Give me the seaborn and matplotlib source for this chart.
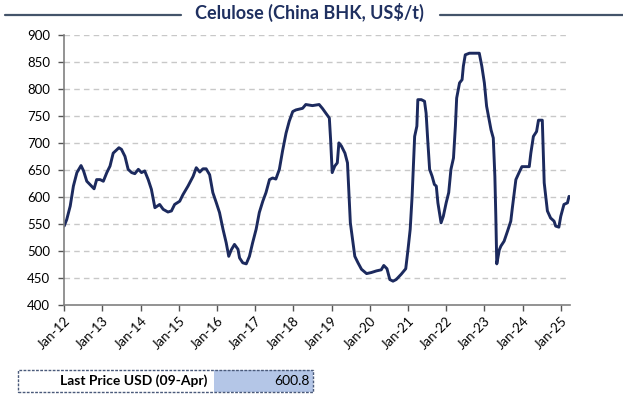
import pandas as pd
import matplotlib
matplotlib.use("Agg")
import matplotlib.pyplot as plt
from matplotlib.patches import Rectangle
from matplotlib.lines import Line2D
import seaborn as sns

# months since Jan-2012 and price (US$/t)
months = [0, 0.8, 1.9, 2.9, 4.0, 5.3, 6.1, 7.1, 8.1, 9.4, 10.2, 11.3, 12.3, 13.4,
          14.4, 15.4, 17.2, 18.0, 19.1, 20.1, 21.2, 22.2, 23.3, 24.3, 25.3, 26.4,
          27.4, 28.5, 30.0, 31.1, 32.6, 33.7, 34.7, 36.3, 37.3, 38.9, 40.5, 41.5,
          42.6, 43.6, 44.6, 45.7, 46.7, 47.8, 48.8, 49.9, 50.9, 51.7, 52.5, 53.5,
          54.6, 55.1, 56.1, 57.2, 58.2, 59.2, 60.3, 61.3, 62.4, 63.4, 64.5, 65.5,
          66.5, 67.6, 68.6, 69.7, 70.7, 71.8, 72.8, 74.9, 75.9, 78.0, 80.1, 81.1,
          82.2, 83.3, 83.7, 84.2, 85.0, 85.8, 86.3, 87.1, 88.2, 89.0, 89.5, 89.9,
          90.6, 91.3, 92.3, 93.4, 95.0, 96.5, 98.1, 99.6, 100.4, 101.4, 102.3,
          103.3, 104.3, 105.9, 107.3, 108.0, 108.7, 109.3, 110.1, 110.8, 111.1,
          112.2, 113.2, 113.7, 114.2, 114.8, 115.6, 116.3, 116.9, 117.4, 118.4,
          119.1, 120.0, 120.8, 121.5, 122.3, 122.9, 123.3, 124.2, 125.0, 125.4,
          126.0, 127.3, 130.4, 131.2, 132.0, 132.7, 133.3, 134.1, 134.8, 135.3,
          135.6, 135.9, 136.7, 137.2, 138.2, 139.3, 140.3, 140.8, 141.9, 142.9,
          143.8, 146.1, 146.6, 147.4, 148.4, 149.0, 150.2, 150.8, 151.8, 152.8,
          153.9, 154.4, 155.4, 156.0, 157.0, 158.1, 158.6]
price = [546, 558, 583, 620, 645, 658, 648, 629, 623, 615, 632, 632, 629, 645,
         657, 681, 691, 688, 675, 651, 645, 643, 651, 645, 648, 632,
         614, 580, 586, 577, 572, 574, 586, 592, 604, 620, 638, 654,
         646, 652, 652, 641, 608, 589, 571, 540, 515, 490, 502, 512,
         503, 487, 478, 476, 490, 515, 540, 571, 592, 608, 632, 635,
         633, 651, 685, 718, 740, 758, 761, 764, 771, 769, 771, 764,
         755, 746, 706, 645, 657, 663, 700, 694, 681, 663, 601, 552,
         521, 490, 478, 466, 458, 460, 463, 465, 473, 467, 447,
         444, 447, 457, 467, 502, 540, 601, 712, 731, 780,
         780, 777, 755, 706, 651, 638, 623, 620, 589, 552,
         564, 589, 608, 651, 672, 731, 783, 811, 817, 842,
         863, 866, 866, 842, 811, 768, 749, 724, 709, 638,
         564, 476, 502, 509, 518, 537, 555, 580, 632, 645,
         656, 656, 681, 712, 721, 742, 742, 626, 574, 561,
         555, 546, 544, 564, 586, 589, 601]

years = list(range(2012, 2026))
tick_labels = [f"Jan-{y % 100:02d}" for y in years]
title = "Celulose (China BHK, US$/t)"
last_label = "Last Price USD (09-Apr)"
last_value = "600.8"

start = pd.Timestamp("2012-01-01")
df = pd.DataFrame({
    "date": [start + pd.Timedelta(days=m * 30.4375) for m in months],
    "price": price,
})

sns.set_style("white")
plt.rcParams["font.family"] = ["Lato", "DejaVu Sans"]

navy = "#1c2a5e"
fig = plt.figure(figsize=(6.23, 3.96), dpi=100)
ax = fig.add_axes([0.103, 0.23, 0.812, 0.682])

sns.lineplot(data=df, x="date", y="price", ax=ax, color=navy, linewidth=2.1)

ax.set_ylim(400, 900)
ax.set_yticks(range(400, 901, 50))
ax.set_xlim(start, pd.Timestamp("2025-03-30"))
ax.set_xticks([pd.Timestamp(f"{y}-01-01") for y in years])
ax.set_xticklabels(tick_labels, rotation=45, ha="right", rotation_mode="anchor")
ax.set_xlabel("")
ax.set_ylabel("")
ax.tick_params(axis="both", labelsize=9.5, colors="#555555", length=4,
               direction="out", width=1, left=True, bottom=True,
               labelcolor="#000000")
ax.tick_params(axis="x", pad=3)
ax.tick_params(axis="y", pad=6)

for y in range(450, 901, 50):
    ax.axhline(y, color="#c8c8c8", linestyle=(0, (4, 3)), linewidth=1.0, zorder=0)

for side in ["top", "right"]:
    ax.spines[side].set_visible(False)
for side in ["left", "bottom"]:
    ax.spines[side].set_color("#808080")
    ax.spines[side].set_linewidth(1.2)

# title with rules on both sides
fig.text(0.497, 0.968, title, ha="center", va="center", fontsize=13,
         fontweight="bold", color="#1f3060")
fig.add_artist(Line2D([0.008, 0.29], [0.962, 0.962], color="#44546a", linewidth=1.6))
fig.add_artist(Line2D([0.707, 1.0], [0.962, 0.962], color="#44546a", linewidth=1.6))

# last price box
bx0, bx1, bmid = 18 / 623, 313 / 623, 214 / 623
by0, by1 = 1 - 392 / 396, 1 - 370 / 396
fig.add_artist(Rectangle((bmid, by0), bx1 - bmid, by1 - by0, facecolor="#b4c6e7",
                         edgecolor="none", transform=fig.transFigure))
fig.add_artist(Rectangle((bx0, by0), bx1 - bx0, by1 - by0, facecolor="none",
                         edgecolor="#4a5a7a", linewidth=1.0, linestyle=(0, (2, 1)),
                         transform=fig.transFigure))
fig.text(207 / 623, (by0 + by1) / 2, last_label, ha="right", va="center",
         fontsize=10, fontweight="bold", color="#000000")
fig.text(310 / 623, (by0 + by1) / 2, last_value, ha="right", va="center",
         fontsize=10, color="#000000")

fig.savefig("out.png", dpi=100)
